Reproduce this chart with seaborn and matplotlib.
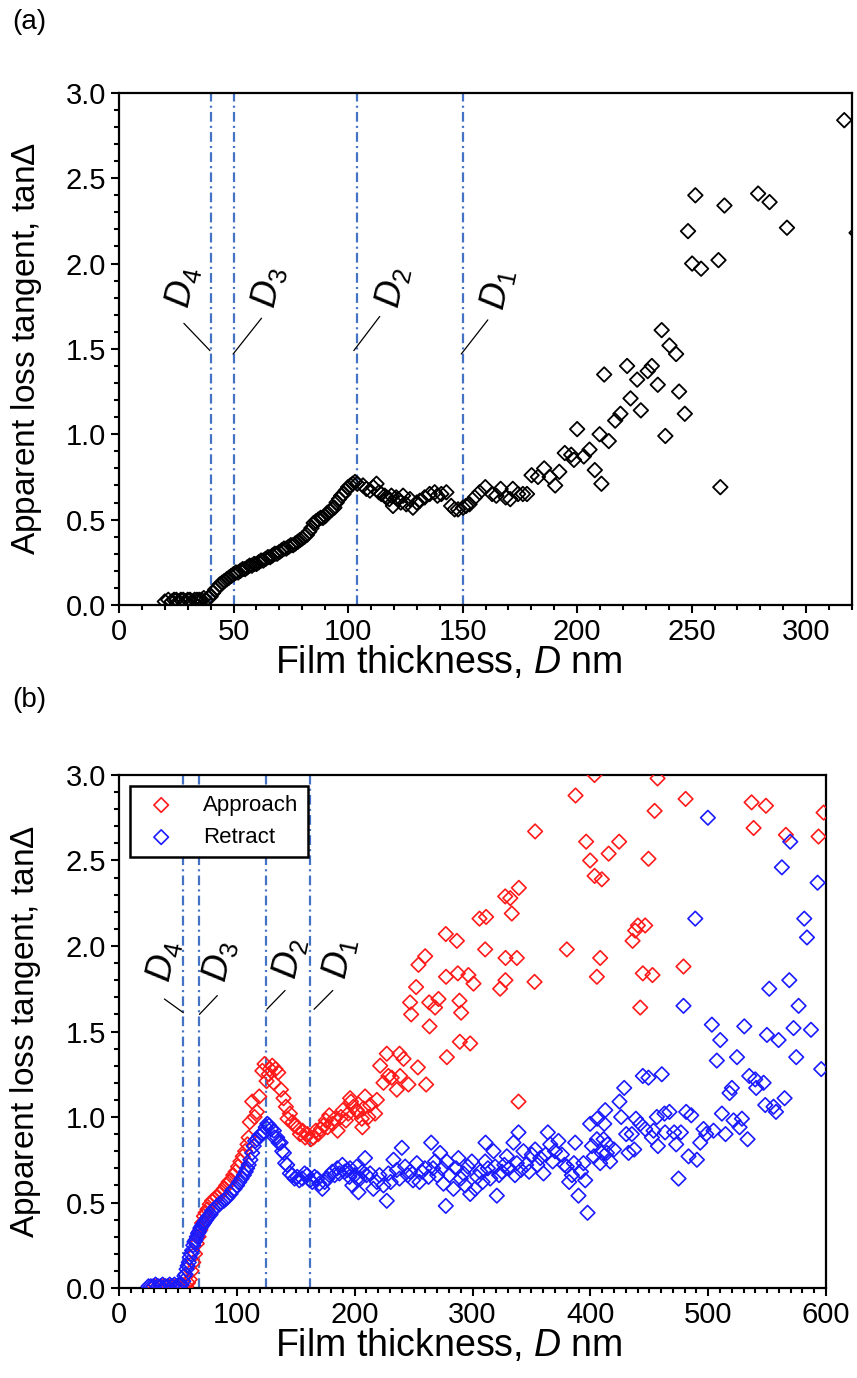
import matplotlib
matplotlib.use("Agg")
import matplotlib.pyplot as plt
from matplotlib.ticker import MultipleLocator, FormatStrFormatter
import seaborn as sns

# ---------------- (a) single sweep ----------------
a_x = [20, 21.5, 23, 24, 25, 26, 27, 28, 29, 30, 31, 32, 33, 34, 35, 36, 37, 38, 39, 40,
       41, 42, 43, 44, 45, 46, 47, 48, 49, 50, 51, 52, 53, 54, 55, 56, 57, 58, 59, 60,
       61, 62, 63, 64, 65, 66, 67, 68, 69, 70, 71, 72, 73, 74, 75, 76, 77, 78, 79, 80,
       81, 82, 83, 84, 85, 86, 87, 88, 89, 90, 91, 92, 93, 94, 95, 96, 97, 98, 99, 100,
       101, 102, 103, 104,
       106.5, 108, 109.5, 111, 112.4, 113.5, 114.5, 116, 116.7, 118, 118.9, 119.6, 121,
       121.8, 123, 124, 125.4, 127, 128.3, 130, 131.3, 133.4, 135.6, 137.8, 139, 140.7,
       142.9, 145, 146.5, 148, 150.2, 151.5, 153, 155.3, 157.4, 159.9, 162.9, 164.7,
       166.6, 168.8, 170.8, 171.9, 174.2, 176.3, 178.1, 180.1, 182.9, 185.6, 188, 190.4,
       192.2, 194.6, 197.4, 198.6, 200, 202.9, 205.4, 207.7, 209.8, 210.6, 211.8, 213.8,
       216.6, 218.9, 221.8, 223.3, 226.2, 227.8, 230.8, 232.6, 235.2, 236.9, 238.5, 240.3,
       243.2, 244.5, 247, 248.4, 250.2, 251.6, 254.1, 261.7, 262.5, 264.3, 279, 284,
       291.6, 316.6, 322]
a_y = [0.02, 0.03, 0.02, 0.03, 0.03, 0.02, 0.03, 0.03, 0.02, 0.03, 0.03, 0.02, 0.03, 0.03,
       0.03, 0.03, 0.04, 0.03, 0.04, 0.05,
       0.07, 0.09, 0.10, 0.12, 0.13, 0.14, 0.15, 0.16, 0.17, 0.18, 0.19, 0.19, 0.20, 0.21,
       0.21, 0.22, 0.23, 0.23, 0.24, 0.24, 0.25, 0.26, 0.26, 0.27, 0.28, 0.28, 0.29, 0.30,
       0.30, 0.31, 0.32, 0.33, 0.33, 0.34, 0.35, 0.35, 0.36, 0.37, 0.38, 0.39, 0.40, 0.41,
       0.43, 0.45, 0.48, 0.49, 0.50, 0.51, 0.51, 0.52, 0.54, 0.55, 0.56, 0.57, 0.60, 0.62,
       0.64, 0.65, 0.67, 0.69, 0.70, 0.71, 0.72, 0.71,
       0.70, 0.68, 0.67, 0.69, 0.71, 0.66, 0.65, 0.64, 0.63, 0.62, 0.64, 0.58, 0.63, 0.62,
       0.60, 0.64, 0.59, 0.62, 0.57, 0.60, 0.61, 0.63, 0.65, 0.66, 0.64, 0.65, 0.66, 0.58,
       0.56, 0.56, 0.57, 0.58, 0.59, 0.63, 0.66, 0.69, 0.65, 0.64, 0.68, 0.63, 0.62, 0.68,
       0.65, 0.65, 0.65, 0.76, 0.75, 0.80, 0.75, 0.70, 0.78, 0.89, 0.88, 0.85, 1.03, 0.87,
       0.91, 0.79, 1.00, 0.71, 1.35, 0.96, 1.08, 1.12, 1.40, 1.21, 1.32, 1.14, 1.37, 1.40,
       1.29, 1.61, 0.99, 1.52, 1.47, 1.25, 1.12, 2.19, 2.00, 2.40, 1.97, 2.02, 0.69, 2.34,
       2.41, 2.36, 2.21, 2.84, 2.18]

# ---------------- (b) approach / retract ----------------
app_x = [30, 33, 36, 39, 42, 45, 48, 51, 54, 57, 58.5, 60, 61.5, 63, 64.5, 66, 67.5, 69,
         70.5, 72, 73.5, 75, 77, 79, 81, 83, 85, 87, 89, 91, 93, 95, 97, 99, 101, 103,
         105, 107, 109, 110, 111, 113, 115, 117, 119, 121.6, 123.5, 125.2, 127, 128, 130,
         131.4, 132.8, 135.1, 137.4, 139.6, 141.6, 143, 145, 147.3, 149, 151.5, 153.5,
         155.7, 158, 160, 162.8, 165, 167, 169, 171.3, 173.5, 175.5, 177, 178.4, 181.2,
         183, 185.5, 188.3, 190, 192.5, 194.5, 196.1, 196.8, 198.9, 201.8, 202.4, 206,
         206.5, 207.4, 208.8, 211.6, 213.1, 217.3, 218.8, 221.6, 224.4, 227.2, 228.6,
         231.4, 235.7, 238, 238.5, 241.4, 245.6, 247, 247.9, 252.1, 253.6, 254.1, 259.8,
         260.6, 263.2, 263.5, 268.2, 271.1, 277.3, 277.5, 278.2, 286.7, 287.5, 288.9,
         289.2, 290.3, 296.5, 298, 300.8, 305.9, 310.7, 311.5, 323.4, 327.7, 328, 327.9,
         332, 333.3, 337.6, 339, 339.3, 352.6, 353.1, 380, 387.4, 396.4, 399.8, 403.5,
         403.6, 405.5, 408.3, 409.7, 415.5, 424.4, 435.8, 438, 440.3, 442.3, 444.5, 446.5,
         449.3, 452.7, 454.5, 457, 479, 480.8, 536.8, 538.5, 549, 565.9, 593.6, 597.9]
app_y = [0.01, 0.01, 0.01, 0.01, 0.01, 0.01, 0.01, 0.01, 0.01, 0.01, 0.03, 0.05, 0.10,
         0.15, 0.20, 0.26, 0.30, 0.34, 0.38, 0.42, 0.44, 0.46, 0.49, 0.51, 0.52, 0.53,
         0.55, 0.56, 0.58, 0.60, 0.62, 0.63, 0.66, 0.68, 0.71, 0.74, 0.77, 0.80, 0.84,
         0.88, 0.97, 1.09, 1.00, 1.03, 1.12, 1.27, 1.31, 1.21, 1.25, 1.28, 1.30, 1.20,
         1.28, 1.26, 1.16, 1.11, 1.06, 0.99, 1.02, 0.97, 0.95, 0.94, 0.90, 0.92, 0.88,
         0.90, 0.87, 0.88, 0.92, 0.90, 0.93, 0.95, 0.98, 0.94, 1.01, 0.96, 0.99, 0.92,
         1.00, 1.04, 0.98, 1.02, 1.11, 1.09, 1.06, 1.04, 1.03, 0.99, 0.94, 1.05, 1.12,
         1.00, 1.07, 1.02, 1.10, 1.30, 1.20, 1.37, 1.24, 1.23, 1.16, 1.37, 1.24, 1.34,
         1.19, 1.67, 1.60, 1.76, 1.29, 1.89, 1.94, 1.19, 1.67, 1.53, 1.64, 1.69, 2.07,
         1.82, 1.35, 2.03, 1.84, 1.68, 1.44, 1.61, 1.83, 1.43, 1.78, 2.16, 1.98, 2.17,
         1.75, 2.29, 1.93, 1.80, 2.28, 2.19, 1.93, 1.09, 2.34, 1.79, 2.67, 1.98, 2.88,
         2.61, 2.50, 3.00, 2.41, 1.82, 1.93, 2.39, 2.54, 2.61, 2.03, 2.09, 2.12, 1.64,
         1.84, 2.12, 2.51, 1.83, 2.79, 2.98, 1.88, 2.86, 2.84, 2.69, 2.82, 2.65, 2.64,
         2.78]

ret_x = [25, 27, 29, 31, 33, 35, 37, 39, 41, 43, 45, 47, 49, 51, 53, 54.5, 55.5, 56.4,
         57.3, 58.2, 59.2, 60, 61, 62, 63, 64, 64.9, 66, 67, 68, 69, 70, 71, 72, 73, 74,
         75, 76, 77.6, 79, 80.5, 82, 83.2, 85, 86.5, 88.9, 90.5, 92, 94.6, 96, 98, 100.2,
         102, 104, 105.9, 107.5, 108.7, 110, 111.5, 113, 114.3, 115.5, 117.2, 119, 121,
         123, 124.5, 125.8, 127.3, 129, 131.4, 132, 134.2, 135.5, 137.1, 138.5, 139.9,
         141, 142.7, 145, 147, 149, 151.2, 153, 155.5, 157.5, 159.7, 162, 164, 166,
         168.2, 170, 172.5, 174.5, 176.7, 178.5, 181, 183, 185.2, 187, 189.5, 191.5,
         193.7, 195.5, 196.1, 198, 200, 201.8, 202.2, 203.2, 204.6, 206.5, 208.8, 210,
         213.1, 215.8, 218.8, 221, 224.4, 227.2, 228.6, 230.5, 232.9, 235.7, 238, 240,
         242.8, 245, 247, 249.5, 252.7, 255, 257, 259.5, 262.6, 264.9, 266.5, 268.2, 270,
         272.5, 274, 275.3, 277.3, 278.2, 280.5, 283.8, 286, 288, 290, 292.3, 293.7, 296,
         298, 299.4, 302.2, 304, 306.5, 308.5, 310.7, 311, 313, 315, 317.8, 319.2, 320.6,
         322.5, 324.9, 327, 329.1, 331, 334.7, 336, 337.6, 339, 341, 343.2, 345.5, 348,
         350.3, 353.1, 355, 357.5, 360.2, 362, 363.9, 365.9, 368, 370, 372.9, 375.8, 378,
         380, 382, 384.3, 386, 387.1, 389.9, 392, 394.1, 395.6, 397.6, 399.8, 401.3, 403,
         405.5, 405.8, 408.3, 409.7, 411.2, 411.8, 412.6, 414, 414.6, 416.8, 420, 424.7,
         426.1, 428.7, 430.4, 432.4, 435.2, 437.2, 438.6, 442.3, 444.5, 446.5, 449.3,
         452.2, 453.6, 456.4, 457.3, 460.6, 462.9, 463.4, 467.1, 471.1, 472.8, 474.8,
         476.8, 479, 481.3, 483.3, 485.6, 489, 490.4, 493.2, 496, 498.3, 499.7, 503.1,
         504.5, 507.3, 510.2, 511.6, 514.7, 518.1, 520.1, 521.5, 524.4, 526.6, 528.6,
         530.6, 533.4, 534.8, 539.9, 540.7, 547, 548.4, 549.8, 551.8, 555.4, 557.5, 559.7,
         562.5, 564.8, 568.8, 569.6, 572.4, 574.7, 576.7, 581.5, 583.8, 587.2, 592.8,
         595.9]
ret_y = [0.01, 0.01, 0.01, 0.02, 0.01, 0.01, 0.02, 0.01, 0.01, 0.02, 0.01, 0.02, 0.01,
         0.02, 0.02, 0.04, 0.07, 0.08, 0.11, 0.13, 0.15, 0.18, 0.20, 0.22, 0.25, 0.27,
         0.28, 0.30, 0.32, 0.33, 0.35, 0.36, 0.37, 0.38, 0.39, 0.40, 0.41, 0.42, 0.43,
         0.45, 0.46, 0.47, 0.48, 0.49, 0.50, 0.51, 0.52, 0.53, 0.55, 0.57, 0.58, 0.60,
         0.62, 0.64, 0.66, 0.68, 0.70, 0.72, 0.75, 0.79, 0.83, 0.86, 0.87, 0.89, 0.90,
         0.91, 0.94, 0.96, 0.95, 0.93, 0.92, 0.88, 0.88, 0.85, 0.85, 0.80, 0.79, 0.73,
         0.72, 0.67, 0.66, 0.64, 0.65, 0.63, 0.64, 0.67, 0.66, 0.63, 0.62, 0.65, 0.64,
         0.61, 0.58, 0.62, 0.64, 0.66, 0.68, 0.66, 0.70, 0.67, 0.72, 0.68, 0.69, 0.65,
         0.70, 0.60, 0.66, 0.71, 0.64, 0.56, 0.64, 0.68, 0.76, 0.66, 0.67, 0.58, 0.62,
         0.66, 0.60, 0.51, 0.67, 0.62, 0.75, 0.69, 0.64, 0.82, 0.71, 0.66, 0.68, 0.63,
         0.73, 0.62, 0.68, 0.70, 0.65, 0.85, 0.70, 0.74, 0.66, 0.79, 0.70, 0.61, 0.48,
         0.74, 0.66, 0.58, 0.70, 0.76, 0.64, 0.67, 0.60, 0.71, 0.55, 0.74, 0.58, 0.65,
         0.68, 0.62, 0.74, 0.85, 0.70, 0.64, 0.80, 0.71, 0.54, 0.66, 0.68, 0.72, 0.77,
         0.70, 0.85, 0.66, 0.73, 0.91, 0.69, 0.80, 0.72, 0.68, 0.78, 0.81, 0.72, 0.76,
         0.67, 0.78, 0.91, 0.84, 0.74, 0.80, 0.86, 0.78, 0.72, 0.71, 0.62, 0.66, 0.73,
         0.85, 0.54, 0.68, 0.73, 0.63, 0.44, 0.96, 0.83, 0.77, 0.87, 0.99, 0.73, 0.79,
         0.87, 0.96, 1.04, 0.79, 0.84, 0.74, 0.81, 1.09, 1.00, 1.17, 0.90, 0.79, 0.90,
         0.81, 0.99, 0.96, 1.24, 0.93, 1.23, 0.88, 0.92, 1.00, 0.83, 1.25, 1.02, 0.91,
         1.03, 0.91, 0.84, 0.64, 0.91, 1.65, 1.03, 0.77, 1.01, 2.16, 0.75, 0.85, 0.93,
         0.90, 2.75, 1.54, 0.92, 1.33, 1.45, 1.02, 0.90, 1.14, 1.17, 0.98, 1.35, 0.94,
         0.99, 1.53, 0.87, 1.24, 1.22, 1.17, 1.20, 1.07, 1.48, 1.75, 1.06, 1.03, 1.45,
         2.46, 1.11, 1.80, 2.61, 1.52, 1.35, 1.65, 2.16, 2.05, 1.51, 2.37, 1.28]

# characteristic thicknesses
a_marks = [40, 50, 104, 150]
b_marks = [54.5, 68, 125, 162]
mark_names = ["4", "3", "2", "1"]
# leader-line ends (x0, y0, x1, y1) and label centres for each mark
a_leaders = [(28.3, 1.65, 39.7, 1.49), (49.8, 1.47, 62.2, 1.68),
             (102.5, 1.49, 113.8, 1.69), (149.4, 1.47, 161.0, 1.67)]
a_labels = [(27.6, 1.86), (65.4, 1.86), (119.6, 1.86), (165.4, 1.85)]
b_leaders = [(38.5, 1.69, 54.6, 1.61), (68.2, 1.60, 83.4, 1.71),
             (125.4, 1.63, 140.9, 1.74), (165.5, 1.63, 181.4, 1.74)]
b_labels = [(37.6, 1.91), (85.7, 1.91), (145.0, 1.93), (187.6, 1.93)]

sns.set_style("ticks")
plt.rcParams["font.family"] = ["Liberation Sans", "DejaVu Sans"]
plt.rcParams["mathtext.fontset"] = "custom"
plt.rcParams["mathtext.rm"] = "Liberation Sans"
plt.rcParams["mathtext.it"] = "Liberation Sans:italic"
plt.rcParams["lines.scale_dashes"] = False
for key in ["text.color", "axes.labelcolor", "xtick.color", "ytick.color",
            "xtick.labelcolor", "ytick.labelcolor", "axes.edgecolor"]:
    plt.rcParams[key] = "black"

LINE_BLUE = "#4472C4"
TICK_FS = 21
XLABEL_FS = 27
YLABEL_FS = 24
DLAB_FS = 26

fig = plt.figure(figsize=(8.57, 13.78), dpi=100)
ax_a = fig.add_axes([0.1389, 0.5610, 0.8553, 0.3716])
ax_b = fig.add_axes([0.1389, 0.0653, 0.8250, 0.3723])

sns.scatterplot(x=a_x, y=a_y, ax=ax_a, marker="D", s=55, facecolor="none",
                edgecolor="black", linewidth=1.3, zorder=3)
sns.scatterplot(x=app_x, y=app_y, ax=ax_b, marker="D", s=55, facecolor="none",
                edgecolor="#ff1a1a", linewidth=1.2, label="Approach", zorder=3)
sns.scatterplot(x=ret_x, y=ret_y, ax=ax_b, marker="D", s=55, facecolor="none",
                edgecolor="#1a1aff", linewidth=1.2, label="Retract", zorder=4)


def style_axis(ax, xmax, xmajor):
    ax.set_xlim(0, xmax)
    ax.set_ylim(0, 3.0)
    ax.xaxis.set_major_locator(MultipleLocator(xmajor))
    ax.xaxis.set_minor_locator(MultipleLocator(10))
    ax.yaxis.set_major_locator(MultipleLocator(0.5))
    ax.yaxis.set_minor_locator(MultipleLocator(0.1))
    ax.yaxis.set_major_formatter(FormatStrFormatter("%.1f"))
    ax.tick_params(which="both", direction="out", top=False, right=False,
                   width=1.5, color="black", labelcolor="black", labelsize=TICK_FS)
    ax.tick_params(which="major", length=6)
    ax.tick_params(which="minor", length=3.5)
    for sp in ax.spines.values():
        sp.set_visible(True)
        sp.set_linewidth(1.6)
        sp.set_color("black")
    ax.set_xlabel("Film thickness, $D$ nm", fontsize=XLABEL_FS, color="black")
    ax.set_ylabel(r"Apparent loss tangent, tan$\mathit{\Delta}$", fontsize=YLABEL_FS,
                  color="black")


style_axis(ax_a, 320, 50)
style_axis(ax_b, 600, 100)
ax_a.xaxis.set_label_coords(0.450, -0.0762)
ax_a.yaxis.set_label_coords(-0.103, 0.5)
ax_b.xaxis.set_label_coords(0.467, -0.0760)
ax_b.yaxis.set_label_coords(-0.107, 0.5)


def draw_marks(ax, xs, leaders, labels):
    for xv, (x0, y0, x1, y1), (tx, ty), nm in zip(xs, leaders, labels, mark_names):
        ax.axvline(xv, color=LINE_BLUE, lw=1.6, dashes=(7, 3, 1.5, 3), zorder=2)
        ax.plot([x0, x1], [y0, y1], color="black", lw=0.9, zorder=2)
        ax.text(tx, ty, "$D_{%s}$" % nm, fontsize=DLAB_FS, rotation=78,
                ha="center", va="center", color="black")


draw_marks(ax_a, a_marks, a_leaders, a_labels)
draw_marks(ax_b, b_marks, b_leaders, b_labels)

leg = ax_b.legend(loc="upper left", bbox_to_anchor=(0.0156, 0.9786),
                  borderaxespad=0, frameon=True, fancybox=False, framealpha=1,
                  edgecolor="black", fontsize=16, handletextpad=0.9,
                  borderpad=0.4, labelspacing=0.5)
leg.get_frame().set_linewidth(1.8)
for t in leg.get_texts():
    t.set_color("black")

fig.text(12 / 857, 1 - 22 / 1378, "(a)", fontsize=20, ha="left", va="center",
         color="black")
fig.text(12 / 857, 1 - 700 / 1378, "(b)", fontsize=20, ha="left", va="center",
         color="black")

fig.savefig("out.png", dpi=100, facecolor="white")
